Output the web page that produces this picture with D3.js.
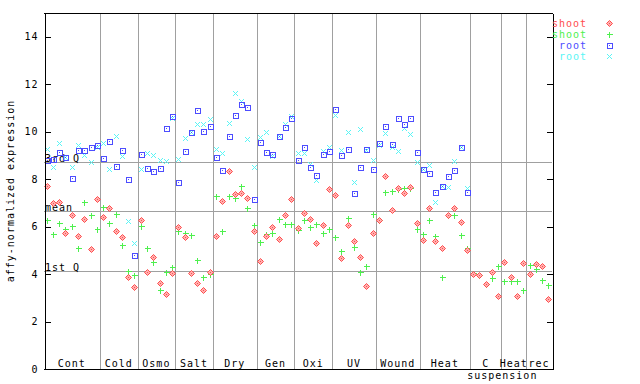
<!DOCTYPE html>
<html>
<head>
<meta charset="utf-8">
<script src="https://cdn.jsdelivr.net/npm/d3@7"></script>
<style>
  body { margin: 0; background: #fff; }
  text { font-family: "DejaVu Sans Mono", monospace; font-size: 10px; letter-spacing: 1px; }
</style>
</head>
<body>
<div id="chart"></div>
<script>
// condition groups along the x axis (samples per group)
const groupNames = ['Cont', 'Cold', 'Osmo', 'Salt', 'Dry', 'Gen', 'Oxi', 'UV', 'Wound', 'Heat', 'C', 'Heat', 'rec'];
const groupSizes = [9, 6, 6, 6, 7, 6, 6, 7, 7, 8, 5, 4, 4];

// shoot series (red diamonds / green crosses)
const shootA = [7.69, 6.99, 7.02, 5.71, 6.46, 5.57, 6.29, 5.03, 7.13,
  6.37, 6.75, 5.79, 5.53, 3.85, 3.43,
  6.24, 4.05, 4.70, 3.59, 3.12, 4.01,
  5.96, 5.53, 4.01, 3.59, 3.29, 4.05,
  5.57, 7.05, 8.31, 7.35, 7.38, 7.17, 5.79,
  4.51, 5.57, 5.95, 5.44, 6.46, 7.13,
  5.91, 6.54, 6.29, 5.27, 6.03, 7.55,
  7.30, 4.64, 6.03, 5.36, 4.68, 3.46, 5.70,
  6.24, 8.10, 6.67, 7.59, 7.38, 7.64, 6.12,
  5.40, 6.75, 5.36, 5.06, 6.46, 6.75, 6.16, 4.98,
  3.97, 3.92, 3.54, 4.05, 3.04,
  4.47, 3.84, 3.04, 4.43,
  3.97, 4.39, 4.30, 2.91];
const shootB = [6.26, 5.65, 6.13, 5.88, 5.99, 5.08, 7.02, 6.46, 5.86,
  6.79, 6.12, 6.52, 5.19, 4.09, 3.92,
  5.99, 5.06, 4.47, 3.29, 4.05, 4.26,
  5.78, 5.70, 5.61, 4.56, 3.84, 3.97,
  7.26, 5.79, 7.26, 7.17, 7.68, 6.75, 6.03,
  5.32, 5.65, 5.70, 6.29, 6.08, 6.08,
  5.82, 6.24, 5.95, 6.08, 5.70, 5.86,
  5.53, 4.94, 6.33, 5.11, 4.05, 4.30, 6.50,
  6.24, 7.43, 7.47, 7.55, 7.59, 7.59, 5.86,
  5.65, 6.24, 5.57, 3.84, 6.46, 6.46, 5.61, 5.06,
  4.01, 3.92, 3.54, 3.80, 4.30,
  3.67, 3.67, 3.67, 3.29,
  4.35, 4.18, 3.71, 3.50];

// root series (blue squares / cyan x), no suspension samples
const rootA = [8.79, 8.82, 9.14, 8.93, 8.02, 9.20, 9.20, 9.34, 9.41,
  8.87, 9.58, 8.52, 9.20, 7.97, 4.77,
  9.03, 8.44, 8.31, 8.44, 10.13, 10.63,
  7.85, 9.16, 9.96, 10.89, 10.00, 10.21,
  8.90, 8.35, 9.79, 10.67, 11.14, 11.01, 7.13,
  9.54, 9.11, 9.03, 9.79, 10.17, 10.55,
  8.78, 9.32, 8.48, 8.14, 9.03, 9.16,
  10.93, 8.99, 9.24, 7.38, 8.48, 9.24, 8.40,
  9.49, 10.21, 9.45, 10.55, 10.30, 10.55, 9.11,
  8.40, 8.23, 7.43, 7.68, 8.10, 8.35, 9.32, 7.43];
const rootB = [9.24, 8.49, 9.49, 8.93, 8.49, 9.41, 8.99, 8.69, 9.35,
  9.49, 8.40, 9.80, 8.97, 6.20, 5.27,
  8.40, 9.07, 8.99, 8.78, 8.73, 10.55,
  8.82, 9.70, 9.96, 10.30, 10.30, 10.51,
  9.24, 9.07, 10.34, 11.60, 11.27, 9.66, 8.48,
  9.75, 9.96, 8.94, 9.79, 10.30, 10.63,
  9.07, 9.07, 8.61, 7.96, 9.16, 9.32,
  10.67, 9.20, 9.96, 7.85, 10.08, 9.20, 8.78,
  9.41, 9.92, 9.32, 9.16, 10.13, 9.87, 8.69,
  8.40, 8.57, 7.00, 7.68, 7.64, 8.73, 9.32, 7.59];

const seriesNames = ['shoot', 'shoot', 'root', 'root'];
const refNames = ['3rd Q', 'mean', '1st Q'];
const refValues = [8.70, 6.62, 4.09];
const yTicks = [0, 2, 4, 6, 8, 10, 12, 14];

const width = 640;
const height = 384;
const plotL = 44, plotR = 552, plotT = 13, plotB = 369;
const colors = ['#ff4d4d', '#4ef04e', '#4d4dff', '#5af5f5'];

const total = d3.sum(groupSizes);
const x = d3.scaleLinear().domain([0, total]).range([plotL, plotR]);
const y = d3.scaleLinear().domain([0, 15]).range([plotB, plotT]);
const px = (v) => Math.floor(v) + 0.5;

const svg = d3.select('#chart').append('svg')
  .attr('width', width)
  .attr('height', height);

// group boundaries
const bounds = d3.cumsum(groupSizes);
svg.append('g')
  .selectAll('line')
  .data(bounds.slice(0, -1))
  .join('line')
  .attr('x1', (d) => px(x(d))).attr('x2', (d) => px(x(d)))
  .attr('y1', plotT).attr('y2', plotB)
  .attr('stroke', '#a0a0a0')
  .attr('shape-rendering', 'crispEdges');

// quartile / mean lines
svg.append('g')
  .selectAll('line')
  .data(refValues)
  .join('line')
  .attr('x1', plotL).attr('x2', plotR)
  .attr('y1', (d) => px(y(d))).attr('y2', (d) => px(y(d)))
  .attr('stroke', '#a0a0a0')
  .attr('shape-rendering', 'crispEdges');

svg.append('g')
  .selectAll('text')
  .data(refValues)
  .join('text')
  .attr('x', plotL + 1)
  .attr('y', (d) => Math.floor(y(d)))
  .text((d, i) => refNames[i]);

// markers
function marker(g, type, color) {
  if (type === 0) {
    g.append('path').attr('d', 'M0,-3L3,0L0,3L-3,0Z')
      .attr('fill', '#ffb0b0').attr('stroke', color);
    g.append('rect').attr('x', -0.5).attr('y', -0.5).attr('width', 1).attr('height', 1)
      .attr('fill', color);
  } else if (type === 1) {
    g.append('path').attr('d', 'M-3,0H3M0,-3V3')
      .attr('stroke', color).attr('shape-rendering', 'crispEdges');
  } else if (type === 2) {
    g.append('rect').attr('x', -2.5).attr('y', -2.5).attr('width', 5).attr('height', 5)
      .attr('fill', 'none').attr('stroke', color).attr('shape-rendering', 'crispEdges');
    g.append('rect').attr('x', -0.5).attr('y', -0.5).attr('width', 1).attr('height', 1)
      .attr('fill', color);
  } else {
    g.append('path').attr('d', 'M-2.5,-2.5L2.5,2.5M-2.5,2.5L2.5,-2.5')
      .attr('stroke', color);
  }
}

const allSeries = [shootA, shootB, rootA, rootB];
// draw in the order the original plots them
[3, 2, 1, 0].forEach((s) => {
  const g = svg.append('g');
  g.selectAll('g')
    .data(allSeries[s].map((v, i) => ({ i, v })))
    .join('g')
    .attr('transform', (d) => `translate(${px(x(d.i + 0.5))},${px(y(d.v))})`)
    .each(function () { marker(d3.select(this), s, colors[s]); });
});

// axes
const axisL = svg.append('g')
  .attr('transform', `translate(${px(plotL)},0)`)
  .call(d3.axisLeft(y).tickValues(yTicks).tickSize(-6).tickSizeOuter(0).tickPadding(6));
const axisR = svg.append('g')
  .attr('transform', `translate(${px(plotR)},0)`)
  .call(d3.axisRight(y).tickValues(yTicks).tickSize(-6).tickSizeOuter(0).tickFormat(''));
[axisL, axisR].forEach((a) => {
  a.selectAll('path, line').attr('stroke', '#000').attr('shape-rendering', 'crispEdges');
  a.selectAll('text').attr('font-family', null).attr('font-size', null).attr('fill', '#000');
});

svg.append('line')
  .attr('x1', plotL).attr('x2', plotR + 1)
  .attr('y1', px(plotT)).attr('y2', px(plotT))
  .attr('stroke', '#000').attr('shape-rendering', 'crispEdges');
svg.append('line')
  .attr('x1', plotL).attr('x2', plotR + 1)
  .attr('y1', px(plotB)).attr('y2', px(plotB))
  .attr('stroke', '#000').attr('shape-rendering', 'crispEdges');

// group labels
const starts = [0, ...bounds.slice(0, -1)];
svg.append('g')
  .selectAll('text')
  .data(groupNames)
  .join('text')
  .attr('x', (d, i) => x((starts[i] + bounds[i]) / 2) - 0.5)
  .attr('y', plotB - 2)
  .attr('text-anchor', 'middle')
  .text((d) => d);

svg.append('text')
  .attr('x', x(bounds[10]) + 0.5)
  .attr('y', plotB + 10)
  .attr('text-anchor', 'middle')
  .text('suspension');

svg.append('text')
  .attr('transform', `translate(14,${(plotT + plotB) / 2}) rotate(-90)`)
  .attr('text-anchor', 'middle')
  .text('affy-normalized expression');

// legend
const legend = svg.append('g');
seriesNames.forEach((name, s) => {
  const ly = 23 + s * 11;
  legend.append('text')
    .attr('x', 587)
    .attr('y', ly + 4)
    .attr('text-anchor', 'end')
    .attr('fill', colors[s])
    .text(name);
  const g = legend.append('g').attr('transform', `translate(609.5,${ly + 0.5})`);
  marker(g, s, colors[s]);
});
</script>
</body>
</html>
